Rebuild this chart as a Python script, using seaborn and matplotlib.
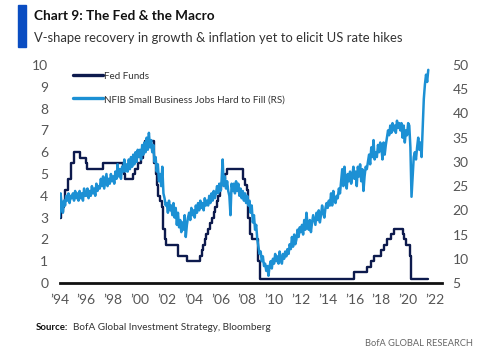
import matplotlib
matplotlib.use("Agg")
import matplotlib.pyplot as plt
from matplotlib.patches import Rectangle
from matplotlib.lines import Line2D
import seaborn as sns
import numpy as np
import pandas as pd

# ---------------- data ----------------
# Fed Funds target (upper bound), step changes: decimal-year date -> level (%)
fed_dates = [1994.0, 1994.09, 1994.23, 1994.30, 1994.38, 1994.62, 1994.87, 1995.09,
             1995.52, 1995.97, 1996.08, 1997.23, 1998.74, 1998.79, 1998.88, 1999.50,
             1999.65, 1999.88, 2000.09, 2000.22, 2000.38, 2001.01, 2001.08, 2001.22,
             2001.30, 2001.38, 2001.49, 2001.64, 2001.71, 2001.75, 2001.85, 2001.95,
             2002.85, 2003.49, 2004.49, 2004.61, 2004.72, 2004.87, 2004.96, 2005.09,
             2005.22, 2005.34, 2005.50, 2005.61, 2005.72, 2005.84, 2005.96, 2006.08,
             2006.24, 2006.36, 2006.49, 2007.72, 2007.83, 2007.95, 2008.06, 2008.08,
             2008.21, 2008.33, 2008.77, 2008.83, 2008.96, 2015.96, 2016.96, 2017.21,
             2017.46, 2017.95, 2018.21, 2018.45, 2018.73, 2018.96, 2019.58, 2019.71,
             2019.83, 2020.17, 2020.21, 2021.50]
fed_levels = [3.0, 3.25, 3.5, 3.75, 4.25, 4.75, 5.5, 6.0,
              5.75, 5.5, 5.25, 5.5, 5.25, 5.0, 4.75, 5.0,
              5.25, 5.5, 5.75, 6.0, 6.5, 6.0, 5.5, 5.0,
              4.5, 4.0, 3.75, 3.5, 3.0, 2.5, 2.0, 1.75,
              1.25, 1.0, 1.25, 1.5, 1.75, 2.0, 2.25, 2.5,
              2.75, 3.0, 3.25, 3.5, 3.75, 4.0, 4.25, 4.5,
              4.75, 5.0, 5.25, 4.75, 4.5, 4.25, 3.5, 3.0,
              2.25, 2.0, 1.5, 1.0, 0.2, 0.5, 0.75, 1.0,
              1.25, 1.5, 1.75, 2.0, 2.25, 2.5, 2.25, 2.0,
              1.75, 1.25, 0.2, 0.2]

# NFIB Small Business: % with job openings hard to fill (monthly, Jan 1994 - Jul 2021)
nfib_by_year = {
    1994: [18.5, 23.5, 21, 19.5, 22, 21, 23, 22, 23.5, 21.5, 23, 22.5],
    1995: [23.5, 22, 24, 22.5, 23.5, 22, 24, 22.5, 23.5, 22, 24.5, 23],
    1996: [23, 24.5, 22.5, 24, 23, 25, 23.5, 24.5, 23, 25.5, 24, 25],
    1997: [24.5, 26.5, 25, 27, 24.5, 26, 27.5, 25, 26.5, 25.5, 27.5, 26],
    1998: [27, 25.5, 28, 26.5, 29.5, 27, 28.5, 26.5, 29, 28, 30.5, 28],
    1999: [29.5, 28, 30.5, 28.5, 31, 29, 31.5, 29.5, 32, 30, 32.5, 31],
    2000: [32.5, 30.5, 33.5, 31.5, 34, 32, 35, 32.5, 36, 33, 34.5, 32],
    2001: [33.5, 30, 31, 28, 29.5, 26, 27.5, 25, 29, 23.5, 22.5, 21],
    2002: [21.5, 19.5, 22, 20, 21, 19, 21.5, 18.5, 20.5, 17, 19.5, 16.5],
    2003: [18, 15.5, 17.5, 16, 19, 14.5, 17, 18.5, 19.5, 18, 20.5, 19],
    2004: [20, 18.5, 21, 19.5, 21.5, 20, 22, 20.5, 21.5, 20, 22.5, 21],
    2005: [22, 21, 23, 21.5, 23.5, 22, 24, 22.5, 23.5, 25, 23.5, 25.5],
    2006: [24, 26, 30.5, 25, 27, 24.5, 26, 24, 23, 19, 25.5, 24],
    2007: [25.5, 23.5, 26, 24, 25.5, 23, 24.5, 22.5, 24, 22, 23.5, 21.5],
    2008: [23, 21, 22, 19.5, 21, 17.5, 19, 16, 17, 14, 12.5, 11],
    2009: [11.5, 9.5, 10.5, 8.5, 9, 7.5, 8.5, 6.5, 8.5, 9.5, 8, 10],
    2010: [9, 11, 9.5, 10.5, 9, 11.5, 10, 9, 11, 10, 11.5, 10.5],
    2011: [12, 11, 13, 12, 14.5, 12.5, 15, 13, 14, 16, 14.5, 16.5],
    2012: [15.5, 17, 15, 18, 16, 19.5, 17, 16, 18, 15.5, 17.5, 19],
    2013: [18, 17, 19.5, 18, 20, 17.5, 19, 21, 19.5, 18.5, 20.5, 21.5],
    2014: [20.5, 22, 21, 23.5, 21, 24, 22, 21.5, 23, 22.5, 24.5, 23.5],
    2015: [26, 28.5, 25, 29, 26, 24.5, 27.5, 26, 28, 25.5, 27, 29],
    2016: [26.5, 28, 25, 29, 27, 29.5, 26, 28.5, 24, 27, 29, 28.5],
    2017: [30, 31.5, 29.5, 33, 31, 34.5, 30.5, 32, 31, 33.5, 32, 34],
    2018: [33, 30.5, 34, 31.5, 33.5, 35, 36.5, 35.5, 37.5, 36, 38, 36.5],
    2019: [37.5, 36, 38.5, 37, 38, 36.5, 38, 35, 37.5, 34, 36.5, 35.5],
    2020: [38, 37.5, 33, 22.8, 27, 31, 32, 30.5, 33, 35, 32.5, 34],
    2021: [31, 37, 43, 46, 48, 46.5, 49],
}

x_tick_years = list(range(1994, 2023, 2))
x_tick_labels = ["\u2019" + str(y)[2:] for y in x_tick_years]
left_ticks = list(range(0, 11))
right_ticks = list(range(5, 51, 5))

title = "Chart 9: The Fed & the Macro"
subtitle = "V-shape recovery in growth & inflation yet to elicit US rate hikes"
source_bold = "Source:"
source_text = "BofA Global Investment Strategy, Bloomberg"
brand = "BofA GLOBAL RESEARCH"
fed_label = "Fed Funds"
nfib_label = "NFIB Small Business Jobs Hard to Fill (RS)"

# ---------------- frames ----------------
fed_df = pd.DataFrame({"date": fed_dates, "rate": fed_levels})
rows = []
for yr, vals in nfib_by_year.items():
    for m, v in enumerate(vals):
        rows.append((yr + m / 12.0, v))
nfib_df = pd.DataFrame(rows, columns=["date", "pct"])

# ---------------- style ----------------
sns.set_theme(style="white")
plt.rcParams["font.family"] = ["Lato", "DejaVu Sans"]

NAVY = "#0D1A4D"
LIGHT = "#1C90D4"
TXT = "#555555"

fig = plt.figure(figsize=(5.0, 3.54), dpi=100)
W, H = 500.0, 354.0
ax = fig.add_axes([59.5 / W, 1 - 283 / H, (442 - 59.5) / W, (283 - 65) / H])
ax2 = ax.twinx()

sns.lineplot(data=fed_df, x="date", y="rate", ax=ax, color=NAVY, lw=1.7,
             drawstyle="steps-post", estimator=None, sort=False)
sns.lineplot(data=nfib_df, x="date", y="pct", ax=ax2, color=LIGHT, lw=1.8,
             estimator=None, sort=False)

ax.set_xlim(1994, 1994 + (442 - 59.5) / 13.41)
ax.set_ylim(0, 10)
ax2.set_ylim(5, 50)
ax.set_xticks(x_tick_years)
ax.set_xticklabels(x_tick_labels)
ax.set_yticks(left_ticks)
ax2.set_yticks(right_ticks)
for a in (ax, ax2):
    a.set_xlabel("")
    a.set_ylabel("")
    a.grid(False)
    for s in a.spines.values():
        s.set_visible(False)
    a.tick_params(length=0, labelsize=10, colors=TXT)
ax.spines["bottom"].set_visible(True)
ax.spines["bottom"].set_color("#111111")
ax.spines["bottom"].set_linewidth(2.0)
ax.tick_params(axis="x", pad=8)
ax.tick_params(axis="y", pad=8)
ax2.tick_params(axis="y", pad=7.5)

handles = [Line2D([], [], color=NAVY, lw=2.4), Line2D([], [], color=LIGHT, lw=2.4)]
leg = ax2.legend(handles, [fed_label, nfib_label], loc="upper left",
                 bbox_to_anchor=(0.022, 0.995), frameon=False, fontsize=8.5,
                 handlelength=2.6, handletextpad=0.05, labelspacing=1.1,
                 borderaxespad=0.0)
for t in leg.get_texts():
    t.set_color("#333333")

# header
fig.patches.append(Rectangle((18 / W, 1 - 47 / H), 8 / W, 42 / H,
                             transform=fig.transFigure, color="#0A4DC2", zorder=5))
t_title = fig.text(34 / W, 1 - 16 / H, title, fontsize=12, fontweight="bold",
                   color="#111111", va="center", ha="left")
t_sub = fig.text(34 / W, 1 - 38 / H, subtitle, fontsize=11, color="#333333",
                 va="center", ha="left")

# footer
t_src_b = fig.text(36 / W, 1 - 327 / H, source_bold, fontsize=9.5, fontweight="bold",
                   color="#111111", va="center", ha="left")
t_src = fig.text(73 / W, 1 - 327 / H, source_text, fontsize=9.5, color="#333333",
                 va="center", ha="left")
t_brand = fig.text(473 / W, 1 - 343 / H, brand, fontsize=9, color="#666666",
                   va="center", ha="right")


def fit_width(txt, target_px):
    r = fig.canvas.get_renderer()
    for _ in range(3):
        w = txt.get_window_extent(renderer=r).width
        if w > 0:
            txt.set_fontsize(txt.get_fontsize() * target_px / w)


fig.canvas.draw()
fit_width(t_title, 180)
fit_width(t_sub, 369)
fit_width(t_src_b, 32)
fit_width(t_src, 200)
fit_width(t_brand, 108)
fit_width(leg.get_texts()[1], 180)
leg.get_texts()[0].set_fontsize(leg.get_texts()[1].get_fontsize())

fig.savefig("out.png", dpi=100)
